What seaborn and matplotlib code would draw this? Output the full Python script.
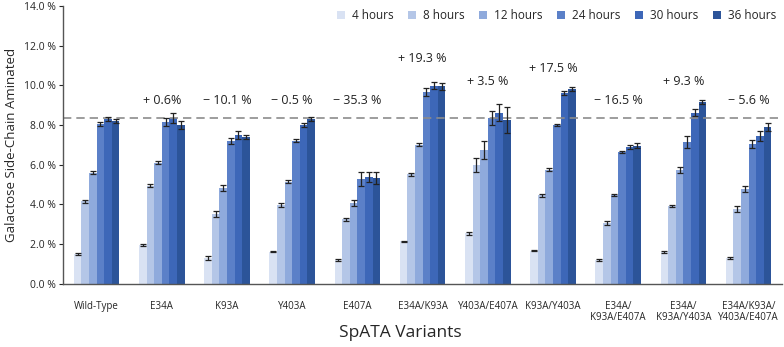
import numpy as np
import pandas as pd
import seaborn as sns
import matplotlib.pyplot as plt

# SpATA variants and time points
variants = ["Wild-Type", "E34A", "K93A", "Y403A", "E407A", "E34A/K93A",
            "Y403A/E407A", "K93A/Y403A", "E34A/\nK93A/E407A",
            "E34A/\nK93A/Y403A", "E34A/K93A/\nY403A/E407A"]
hours = ["4 hours", "8 hours", "12 hours", "24 hours", "30 hours", "36 hours"]

# % galactose side-chain aminated, one list per time point (same order as variants)
h4 = [1.50, 1.95, 1.30, 1.62, 1.20, 2.15, 2.55, 1.67, 1.18, 1.62, 1.30]
h8 = [4.15, 4.95, 3.50, 3.98, 3.25, 5.52, 6.00, 4.45, 3.08, 3.92, 3.78]
h12 = [5.60, 6.10, 4.85, 5.15, 4.08, 7.00, 6.75, 5.74, 4.47, 5.74, 4.78]
h24 = [8.05, 8.15, 7.20, 7.20, 5.30, 9.68, 8.35, 8.00, 6.66, 7.13, 7.03]
h30 = [8.30, 8.35, 7.50, 8.00, 5.40, 9.97, 8.63, 9.60, 6.91, 8.63, 7.47]
h36 = [8.20, 8.00, 7.40, 8.30, 5.35, 9.95, 8.26, 9.80, 6.95, 9.15, 7.89]

# error bars
e4 = [0.03, 0.05, 0.10, 0.04, 0.03, 0.02, 0.07, 0.03, 0.05, 0.05, 0.04]
e8 = [0.08, 0.06, 0.15, 0.10, 0.06, 0.08, 0.35, 0.10, 0.10, 0.06, 0.15]
e12 = [0.06, 0.07, 0.15, 0.06, 0.15, 0.07, 0.45, 0.07, 0.04, 0.15, 0.15]
e24 = [0.10, 0.20, 0.15, 0.08, 0.35, 0.20, 0.35, 0.03, 0.05, 0.30, 0.20]
e30 = [0.10, 0.25, 0.20, 0.08, 0.25, 0.18, 0.45, 0.10, 0.10, 0.20, 0.25]
e36 = [0.12, 0.20, 0.12, 0.08, 0.30, 0.18, 0.65, 0.10, 0.12, 0.10, 0.20]

# change vs wild-type at 36 h
change_labels = [None, "+ 0.6%", "\u2212 10.1 %", "\u2212 0.5 %", "\u2212 35.3 %", "+ 19.3 %",
                 "+ 3.5 %", "+ 17.5 %", "\u2212 16.5 %", "+ 9.3 %", "\u2212 5.6 %"]
change_y = [None, 9.26, 9.26, 9.26, 9.26, 11.33, 10.17, 10.83, 9.26, 10.17, 9.26]
wt_line = 8.36

colors = ["#d9e2f3", "#b4c6e7", "#8faadc", "#5b80c8", "#3d67b8", "#2c5499"]

series = [h4, h8, h12, h24, h30, h36]
errors = [e4, e8, e12, e24, e30, e36]
df = pd.DataFrame({
    "variant": np.tile(variants, len(hours)),
    "time": np.repeat(hours, len(variants)),
    "value": np.concatenate(series),
})

sns.set_style("white")
plt.rcParams["font.family"] = ["Open Sans", "DejaVu Sans"]

fig = plt.figure(figsize=(7.84, 3.47), dpi=100)
ax = fig.add_axes([0.080, 0.182, 0.918, 0.801])

sns.barplot(data=df, x="variant", y="value", hue="time", palette=colors,
            width=0.7, gap=0, errorbar=None, saturation=1, linewidth=0, ax=ax)

for cont, err in zip(ax.containers, errors):
    xs = [p.get_x() + p.get_width() / 2 for p in cont]
    ys = [p.get_height() for p in cont]
    ax.errorbar(xs, ys, yerr=err, fmt="none", ecolor="#222222",
                elinewidth=0.9, capsize=2.2, capthick=0.9, zorder=5)

ax.axhline(wt_line, color="#8c8c8c", linestyle=(0, (5, 3)), linewidth=1.2, zorder=1)

for i, (lab, yy) in enumerate(zip(change_labels, change_y)):
    if lab:
        ax.text(i, yy, lab, ha="center", va="center", fontsize=9, color="#222222")

ax.set_ylim(0, 14)
ax.set_xlim(-0.52, len(variants) - 0.48)
ax.set_yticks(np.arange(0, 14.1, 2))
ax.set_yticklabels([f"{v:.1f} %" for v in np.arange(0, 14.1, 2)], fontsize=7.5)
ax.set_xticks(range(len(variants)))
ax.set_xticklabels(variants, fontsize=7, linespacing=1.1)
ax.tick_params(axis="x", length=0, pad=12)
ax.tick_params(axis="y", length=3, width=0.8, direction="out", left=True, pad=2)
ax.set_xlabel("")
fig.text(0.51, 0.04, "SpATA Variants", ha="center", va="center", fontsize=12.5)
ax.set_ylabel("Galactose Side-Chain Aminated", fontsize=9.5, labelpad=4)

sns.despine(ax=ax)
for s in ["left", "bottom"]:
    ax.spines[s].set_color("#555555")
    ax.spines[s].set_linewidth(1.0)

ax.legend(loc="center right", bbox_to_anchor=(0.998, 0.964), ncol=6, frameon=False,
          fontsize=8.5, handlelength=0.7, handleheight=0.7, handletextpad=0.6,
          columnspacing=1.2, borderaxespad=0)

fig.savefig("out.png", dpi=100)
